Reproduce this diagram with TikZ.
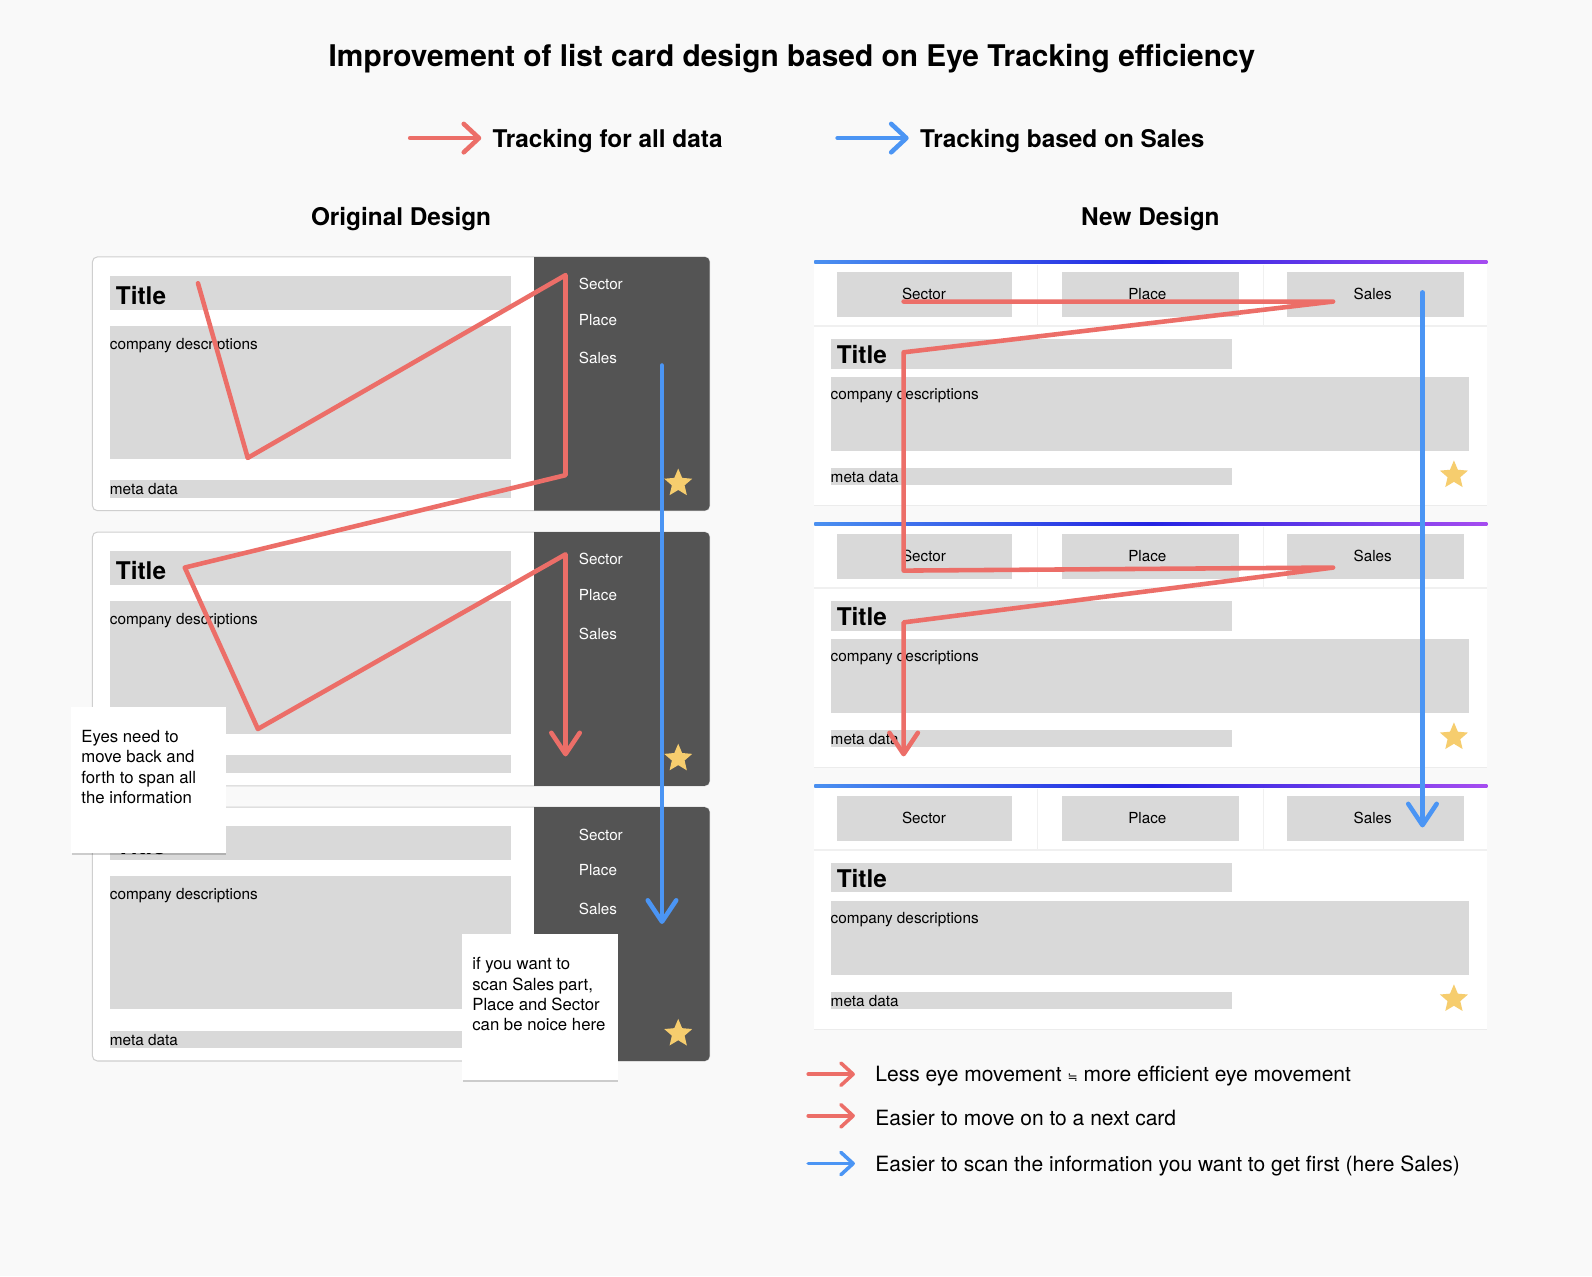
\documentclass[tikz,border=0pt]{standalone}
\usepackage{fontspec}
\setmainfont{TeX Gyre Heros}
\newfontfamily\symfont{DejaVu Sans}
\usetikzlibrary{arrows.meta,shapes.geometric,shadows}
\definecolor{bgc}{HTML}{F9F9F9}
\definecolor{cardborder}{HTML}{CFCFCF}
\definecolor{barc}{HTML}{D9D9D9}
\definecolor{panelc}{HTML}{545454}
\definecolor{redc}{HTML}{EC6E68}
\definecolor{bluec}{HTML}{4B95F4}
\definecolor{starc}{HTML}{F6CD6E}
\definecolor{sepc}{HTML}{F0F0F0}
\definecolor{gradA}{HTML}{4A90F0}
\definecolor{gradB}{HTML}{2424E2}
\definecolor{gradC}{HTML}{A64CF0}
\tikzset{
  titletxt/.style={inner sep=0pt, font=\bfseries\fontsize{29.4}{34}\selectfont},
  legtxt/.style={anchor=west, inner sep=0pt, font=\bfseries\fontsize{24}{28}\selectfont},
  secttxt/.style={inner sep=0pt, font=\bfseries\fontsize{24}{28}\selectfont},
  cardframe/.style={draw=cardborder, line width=1pt, fill=white, rounded corners=5pt},
  graybar/.style={fill=barc},
  ttltxt/.style={anchor=west, inner sep=0pt, font=\bfseries\fontsize{24}{28}\selectfont},
  bodytxt/.style={anchor=west, inner sep=0pt, font=\fontsize{15.1}{18}\selectfont},
  paneltxt/.style={anchor=west, inner sep=0pt, text=white, font=\fontsize{15}{18}\selectfont},
  celltxt/.style={inner sep=0pt, font=\fontsize{15}{18}\selectfont},
  starnode/.style={star, star points=5, star point ratio=2.2, fill=starc, draw=none, minimum size=29pt, inner sep=0pt},
  redline/.style={draw=redc, line width=4.5pt, line join=round, line cap=round},
  blueline/.style={draw=bluec, line width=4.5pt, line join=round, line cap=round},
  vhead/.style={-{Straight Barb[length=21pt,width=28pt,line cap=round,line join=round]}},
  lhead/.style={-{Straight Barb[length=15pt,width=28pt,line cap=round,line join=round]}},
  shead/.style={-{Straight Barb[length=12pt,width=22pt,line cap=round,line join=round]}},
  notebox/.style={fill=white, draw=none, drop shadow={shadow xshift=0.5pt, shadow yshift=-1.5pt, opacity=0.18, fill=black}},
  notetxt/.style={anchor=north west, inner sep=0pt, align=left, font=\fontsize{16.5}{20}\selectfont},
  bottxt/.style={anchor=west, inner sep=0pt, font=\fontsize{20.7}{24}\selectfont},
  newcard/.style={fill=white, draw=none, drop shadow={shadow xshift=0pt, shadow yshift=-1pt, opacity=0.05, fill=black}}
}
\begin{document}
\begin{tikzpicture}[x=1pt,y=-1pt]
\fill[bgc] (0,0) rectangle (1568,1257);
\useasboundingbox (0,0) rectangle (1568,1257);

\node[titletxt] (title) at (780,58) {Improvement of list card design based on Eye Tracking efficiency};

% top legend
\coordinate (lra) at (404,136); \coordinate (lrb) at (474,136);
\draw[redline, lhead] (lra) -- (lrb);
\node[legtxt] (lrt) at (485,139) {Tracking for all data};
\coordinate (lba) at (825,136); \coordinate (lbb) at (895,136);
\draw[blueline, lhead] (lba) -- (lbb);
\node[legtxt] (lbt) at (906,139) {Tracking based on Sales};

\node[secttxt] (orig) at (395,216) {Original Design};
\node[secttxt] (newd) at (1133,216) {New Design};

% original cards
\foreach \i/\y in {1/253,2/524,3/795}{
  \draw[cardframe] (91,\y) rectangle (699,\y+250);
  \begin{scope}
    \clip[rounded corners=5pt] (91,\y) rectangle (699,\y+250);
    \fill[panelc] (526,\y) rectangle (699,\y+250);
  \end{scope}
  \fill[graybar] (108,\y+19) rectangle (503,\y+52);
  \fill[graybar] (108,\y+68) rectangle (503,\y+199);
  \fill[graybar] (108,\y+220) rectangle (503,\y+237);
  \node[ttltxt] (ot\i) at (114,\y+38) {Title};
  \node[bodytxt] (od\i) at (108,\y+87) {company descriptions};
  \node[paneltxt] (os\i) at (570,\y+27) {Sector};
  \node[paneltxt] (op\i) at (570,\y+62) {Place};
  \node[paneltxt] (oa\i) at (570,\y+100) {Sales};
  \node[starnode] (ostar\i) at (668,\y+223) {};
}
% meta data labels that stay visible (card 2's is hidden under the note)
\node[bodytxt] (om1) at (108,482) {meta data};
\node[bodytxt] (om3) at (108,1024) {meta data};

% original eye path
\coordinate (p1) at (195,279);
\coordinate (p2) at (244,451);
\coordinate (p3) at (557,271);
\coordinate (p4) at (557,468);
\coordinate (p5) at (182,559);
\coordinate (p6) at (254,718);
\coordinate (p7) at (557,546);
\coordinate (p8) at (557,745);
\draw[redline, vhead] (p1) -- (p2) -- (p3) -- (p4) -- (p5) -- (p6) -- (p7) -- (p8);
\coordinate (q1) at (652,360);
\coordinate (q2) at (652,910);
\draw[blueline, vhead] (q1) -- (q2);

% notes
\node[notebox, anchor=north west, minimum width=152pt, minimum height=144pt, inner sep=0pt] (n1) at (70,696) {};
\node[notetxt] (n1t) at (80,719) {Eyes need to\\move back and\\forth to span all\\the information};
\node[notebox, anchor=north west, minimum width=153pt, minimum height=144pt, inner sep=0pt] (n2) at (455,920) {};
\node[notetxt] (n2t) at (465,943) {if you want to\\scan Sales part,\\Place and Sector\\can be noice here};

% new cards
\foreach \i/\y in {1/258,2/516,3/774}{
  \fill[newcard] (802,\y) rectangle (1465,\y+239);
  \shade[left color=gradA, right color=gradC, middle color=gradB] (802,\y-1) rectangle (1465,\y+1.2);
  \draw[sepc, line width=1pt] (1022,\y+3) -- (1022,\y+62);
  \draw[sepc, line width=1pt] (1244,\y+3) -- (1244,\y+62);
  \draw[sepc, line width=1.5pt] (802,\y+63) -- (1465,\y+63);
  \fill[graybar] (824,\y+10) rectangle (997,\y+54);
  \fill[graybar] (1046,\y+10) rectangle (1220,\y+54);
  \fill[graybar] (1268,\y+10) rectangle (1442,\y+54);
  \node[celltxt] (ns\i) at (910,\y+32) {Sector};
  \node[celltxt] (np\i) at (1130,\y+32) {Place};
  \node[celltxt] (na\i) at (1352,\y+32) {Sales};
  \fill[graybar] (818,\y+76) rectangle (1213,\y+105);
  \fill[graybar] (818,\y+113) rectangle (1447,\y+186);
  \fill[graybar] (818,\y+203) rectangle (1213,\y+220);
  \node[ttltxt] (nt\i) at (824,\y+91) {Title};
  \node[bodytxt] (nd\i) at (818,\y+132) {company descriptions};
  \node[bodytxt] (nm\i) at (818,\y+212) {meta data};
  \node[starnode] (nstar\i) at (1432,\y+210) {};
}

% new eye path
\coordinate (r1) at (890,297);
\coordinate (r2) at (1313,297);
\coordinate (r3) at (890,347);
\coordinate (r4) at (890,562);
\coordinate (r5) at (1313,559);
\coordinate (r6) at (890,613);
\coordinate (r7) at (890,745);
\draw[redline, vhead] (r1) -- (r2) -- (r3) -- (r4) -- (r5) -- (r6) -- (r7);
\coordinate (s1) at (1401,288);
\coordinate (s2) at (1401,815);
\draw[blueline, vhead] (s1) -- (s2);

% bottom legend
\coordinate (b1a) at (796,1058); \coordinate (b1b) at (842,1058);
\draw[redline, line width=3.5pt, shead] (b1a) -- (b1b);
\node[bottxt] (b1t) at (862,1060) {Less eye movement {\symfont\fontsize{12}{14}\selectfont ≒} more efficient eye movement};
\coordinate (b2a) at (796,1099); \coordinate (b2b) at (842,1099);
\draw[redline, line width=3.5pt, shead] (b2a) -- (b2b);
\node[bottxt] (b2t) at (862,1101) {Easier to move on to a next card};
\coordinate (b3a) at (796,1146); \coordinate (b3b) at (842,1146);
\draw[blueline, line width=3.5pt, shead] (b3a) -- (b3b);
\node[bottxt] (b3t) at (862,1148) {Easier to scan the information you want to get first (here Sales)};
\end{tikzpicture}
\end{document}
